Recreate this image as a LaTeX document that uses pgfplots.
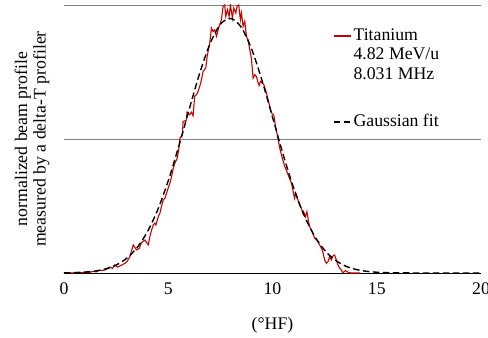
\documentclass[border=0pt]{standalone}
\usepackage{fontspec}
\setmainfont{Liberation Serif}
\usepackage{pgfplots}
\pgfplotsset{compat=1.18}
\definecolor{tired}{RGB}{204,0,0}
\newcommand{\fs}{\fontsize{17.8}{18.5}\selectfont}
\begin{document}
\fs
\begin{tikzpicture}
\path[use as bounding box] (-64bp,-65bp) rectangle (424bp,273bp);
\begin{axis}[
  at={(0,0)}, anchor=south west,
  scale only axis, width=417bp, height=268bp,
  xmin=0, xmax=20, ymin=0, ymax=1,
  separate axis lines,
  axis x line*=bottom, axis y line*=left,
  x axis line style={-, black, line width=1bp},
  y axis line style={draw=none},
  xtick={0,5,10,15,20}, ytick={0.5,1}, yticklabels={},
  ymajorgrids, grid style={gray, line width=0.9bp},
  major tick length=0pt,
  /pgf/number format/assume math mode=true,
  ticklabel style={font=\fs},
  xticklabel style={yshift=-4bp},
  xlabel={(°HF)},
  xlabel style={at={(axis description cs:0.5,0)}, anchor=center, yshift=-52bp, font=\fs},
  ylabel={normalized beam profile\\measured by a delta-T profiler},
  ylabel style={at={(axis description cs:-0.0767,0.5)}, anchor=center, align=center, font=\fs},
  legend style={at={(axis cs:12.9,0.922)}, anchor=north west, draw=none, fill=none,
    inner sep=0pt, row sep=0pt, font=\fs,
    nodes={inner xsep=2bp, inner ysep=0pt, text height=14bp, text depth=5.5bp},
    cells={anchor=west}},
  legend cell align=left,
]
\addlegendimage{color=tired, draw=tired, line width=1.3bp}
\addlegendentry{Titanium}
\addlegendimage{empty legend}
\addlegendentry{4.82 MeV/u}
\addlegendimage{empty legend}
\addlegendentry{8.031 MHz}
\addlegendimage{empty legend}
\addlegendentry[text height=22bp]{}
\addlegendimage{black, line width=1.4bp, dash pattern=on 6.5bp off 3.5bp}
\addlegendentry{Gaussian fit}
\addplot[tired, line width=1.1bp, forget plot] coordinates {
(0.0,0.000) (0.2,0.001) (0.4,0.000) (0.6,0.002) (0.8,0.001) (1.0,0.003) (1.2,0.002) (1.4,0.006)
(1.55,0.004) (1.7,0.010) (1.88,0.010) (2.05,0.014) (2.20,0.022) (2.32,0.017) (2.44,0.030) (2.56,0.022)
(2.68,0.026) (2.80,0.031) (2.92,0.036) (3.04,0.045) (3.16,0.061) (3.32,0.105) (3.48,0.086) (3.61,0.092)
(3.70,0.110) (3.77,0.117) (3.88,0.123) (4.04,0.105) (4.12,0.136) (4.20,0.160) (4.28,0.179) (4.36,0.186)
(4.41,0.179) (4.52,0.210) (4.60,0.223) (4.68,0.250) (4.76,0.273) (4.84,0.279) (4.92,0.298) (5.00,0.318)
(5.08,0.335) (5.16,0.360) (5.24,0.391) (5.32,0.410) (5.43,0.428) (5.52,0.470) (5.56,0.503) (5.68,0.515)
(5.71,0.565) (5.87,0.570) (5.90,0.600) (6.03,0.590) (6.11,0.600) (6.19,0.587) (6.27,0.660) (6.35,0.665)
(6.43,0.677) (6.51,0.696) (6.59,0.720) (6.67,0.752) (6.75,0.760) (6.80,0.765) (6.87,0.810) (6.93,0.833)
(6.99,0.858) (7.07,0.914) (7.15,0.901) (7.23,0.908) (7.31,0.883) (7.44,0.920) (7.55,0.945) (7.63,0.995)
(7.71,1.000) (7.76,0.957) (7.84,0.982) (7.92,0.957) (7.98,1.000) (8.08,0.951) (8.14,0.989) (8.24,0.970)
(8.30,0.995) (8.38,1.000) (8.46,0.945) (8.51,0.970) (8.59,0.920) (8.67,0.939) (8.75,0.883) (8.83,0.870)
(8.91,0.833) (8.99,0.800) (9.07,0.727) (9.15,0.740) (9.23,0.733) (9.30,0.712) (9.36,0.700) (9.42,0.715)
(9.52,0.708) (9.59,0.702) (9.71,0.671) (9.83,0.634) (9.95,0.597) (10.06,0.590) (10.15,0.546) (10.26,0.503)
(10.35,0.465) (10.47,0.428) (10.59,0.397) (10.75,0.366) (10.91,0.335) (10.99,0.304) (11.06,0.279) (11.11,0.298)
(11.22,0.273) (11.30,0.254) (11.38,0.242) (11.46,0.223) (11.49,0.229) (11.58,0.210) (11.65,0.229) (11.73,0.192)
(11.78,0.173) (11.91,0.154) (12.02,0.130) (12.13,0.123) (12.26,0.105) (12.39,0.086) (12.50,0.049) (12.58,0.036)
(12.66,0.042) (12.74,0.061) (12.82,0.049) (12.90,0.064) (12.98,0.067) (13.06,0.049) (13.14,0.030) (13.22,0.018)
(13.30,0.011) (13.38,0.001) (13.50,0.009) (13.62,0.003) (13.75,0.000) (14.20,0.000)
};
\addplot[black, line width=1.4bp, dash pattern=on 6.5bp off 3.5bp, smooth, forget plot] coordinates {
(0,0.0006) (0.5,0.0015) (1,0.0034) (1.5,0.0074) (2,0.0153) (2.5,0.0297) (3,0.0545) (3.5,0.0942)
(4,0.1538) (4.5,0.2369) (5,0.3442) (5.5,0.4718) (6,0.6096) (6.5,0.7433) (7,0.8550) (7.5,0.9278)
(8,0.9497) (8.5,0.9170) (9,0.8353) (9.5,0.7178) (10,0.5818) (10.5,0.4448) (11,0.3208) (11.5,0.2183)
(12,0.1401) (12.5,0.0848) (13,0.0485) (13.5,0.0261) (14,0.0133) (14.5,0.0064) (15,0.0029) (15.5,0.0012)
(16,0.0005) (17,0.0001) (18,0.0000) (19,0.0000) (20,0.0000)
};
\end{axis}
\end{tikzpicture}
\end{document}
